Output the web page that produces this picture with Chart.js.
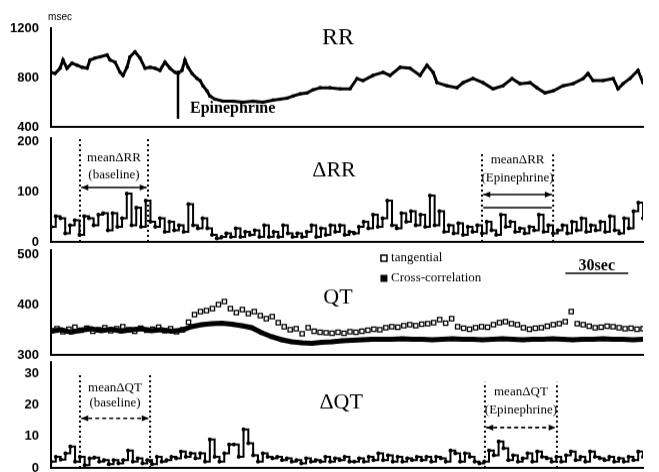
<!DOCTYPE html>
<html>
<head>
<meta charset="utf-8">
<script src="https://cdn.jsdelivr.net/npm/chart.js@4.4.1/dist/chart.umd.min.js"></script>
<style>
  html, body { margin: 0; padding: 0; background: #fff; }
  #wrap { position: relative; width: 659px; height: 472px; overflow: hidden; }
  #wrap canvas { position: absolute; left: 0; }
</style>
</head>
<body>
<div id="wrap">
  <canvas id="rr"></canvas>
  <canvas id="drr"></canvas>
  <canvas id="qt"></canvas>
  <canvas id="dqt"></canvas>
</div>
<script>
// length of the recording strip, seconds
const stripLength = 282;

// tick labels of the four panels
const rrTicks = [400, 800, 1200];
const deltaRRTicks = [0, 100, 200];
const qtTicks = [300, 400, 500];
const deltaQTTicks = [0, 10, 20, 30];

// RR interval (msec) against time (sec)
const rrTime = [0, 1.9, 4.3, 5.7, 7.6, 10, 12.4, 14.8, 17.2, 18.6,
  21, 23.3, 26.7, 28.1, 30.5, 32.9, 34.3, 36.2, 37.6, 40,
  42.4, 44.8, 47.2, 49.5, 51.9, 54.3, 56.7, 59.1, 60.5, 62.4,
  63.8, 65.3, 67.2, 69.6, 71, 72.4, 74.3, 75.7, 78.1, 81.9,
  86.7, 91.5, 96.2, 101, 105.8, 109.1, 112.4, 115.3, 118.6, 122,
  124.8, 128.2, 132.9, 137.7, 142.4, 145.8, 148.6, 153.4, 158.2, 161.5,
  166.3, 171, 175.8, 179.1, 182, 183.9, 188.7, 193.4, 196.3, 201,
  205.8, 210.6, 215.3, 219.6, 223.4, 228.2, 231.5, 235.3, 239.2, 243.9,
  248.7, 253.5, 255.8, 258.2, 263, 267.8, 270.1, 272.5, 275.8, 279.6, 282];
const rrValue = [842, 833, 875, 942, 875, 917, 900, 883, 875, 942,
  958, 967, 983, 942, 925, 842, 817, 883, 967, 1008,
  958, 875, 883, 875, 858, 925, 875, 842, 833, 858,
  942, 883, 833, 792, 775, 733, 692, 650, 625, 608,
  608, 600, 608, 600, 617, 625, 633, 650, 667, 675,
  700, 717, 717, 708, 708, 792, 775, 817, 842, 817,
  883, 875, 817, 900, 842, 758, 733, 717, 758, 792,
  758, 708, 733, 792, 750, 758, 717, 675, 692, 733,
  750, 792, 833, 775, 775, 792, 708, 750, 792, 858, 758];

// beat to beat change of RR (msec), evenly spaced over the strip
const deltaRR = [30, 51, 47, 17, 33, 43, 14, 51, 47, 33,
  54, 57, 23, 57, 30, 47, 96, 33, 68, 30,
  82, 40, 30, 47, 20, 40, 23, 33, 20, 75,
  33, 27, 47, 27, 14, 7, 10, 17, 10, 27,
  10, 20, 14, 23, 10, 33, 10, 20, 10, 33,
  17, 10, 17, 10, 20, 33, 10, 27, 14, 33,
  20, 33, 14, 20,
  17, 30, 40, 27, 54, 30, 47, 82, 33, 27,
  57, 40, 61, 33, 54, 30, 92, 33, 61, 20,
  33, 17, 37, 14, 30, 20, 33, 17, 40, 23,
  14, 54, 30, 40, 20, 27, 17, 30, 23, 54,
  20, 33, 17, 23, 33, 17, 40, 23, 47, 20,
  33, 23, 40, 20, 51, 23, 17, 47, 27, 61, 78, 47];

// QT interval (msec), evenly spaced
const qtTangential = [348, 352, 346, 351, 355, 349, 353, 347, 350, 354,
  348, 352, 356, 350, 347, 353, 349, 351, 355, 348,
  352, 346, 350, 365, 380, 386, 388, 392, 400, 406,
  392, 384, 390, 382, 386, 378, 372, 376, 364, 356,
  350, 352, 342, 354, 347, 345, 344, 343, 345, 343,
  346, 345, 347, 349, 351, 350, 354, 356, 355, 358,
  360, 358, 361, 362, 364, 370, 363, 372, 356, 353,
  351, 354, 356, 355, 360, 364, 366, 362, 360, 354,
  351, 353, 354, 357, 360, 362, 366, 386, 362, 360,
  357, 354, 355, 357, 356, 354, 352, 353, 351, 352];
const qtCrossCorr = [347, 350, 345, 349, 352, 348, 351, 347, 350, 352,
  348, 350, 347, 349, 356, 360, 362, 363, 361, 358,
  354, 344, 336, 330, 326, 324, 323, 325, 326, 328,
  329, 330, 331, 331, 331, 332, 331, 331, 330, 331,
  332, 331, 331, 330, 331, 332, 331, 330, 331, 331,
  332, 331, 330, 331, 331, 332, 331, 331, 330, 331];

// beat to beat change of QT (msec), evenly spaced
const deltaQT = [2, 3.5, 2.6, 4.6, 6.8, 2, 3.5, 0.9, 3, 3.3,
  2, 2.5, 1.2, 2.5, 1.4, 2.5, 5.5, 2, 3, 1.4,
  2.5, 1.2, 3.5, 2, 2.5, 3.5, 3, 5.2, 3.5, 4.6,
  3, 4.6, 2, 9, 3.5, 2, 4.6, 7.4, 7.4, 3.5,
  12.2, 7.8, 4, 2, 4.6, 3.5, 3, 3.5, 2.5, 3,
  2, 2.5, 1.4, 3, 2, 2.5, 2, 3.5, 2, 3, 2.5, 3.5, 2,
  2, 3, 2, 3.5, 2.5, 4.6, 2.5, 4, 2, 3.5,
  2, 3, 2.5, 3.5, 2.5, 3.5, 2, 3.5, 3, 2,
  5.5, 4.6, 2, 4.6, 3.5, 2, 1.4, 2, 5.5, 4,
  8.4, 6.2, 2.5, 4, 2, 3, 4.6, 2, 5.2, 3.5,
  3, 2, 3.5, 2, 4, 5.2, 2.5, 3.5, 2, 5.2,
  3.5, 3, 2.5, 3.5, 2, 3, 2, 3.5, 2.5, 5.2, 3.5];

// marked time windows (sec)
const epinephrineAt = 60.5;
const baselineRR = [13.8, 46.2];
const epiRR = [205.3, 239.2];
const baselineQT = [13.8, 47.2];
const epiQT = [206.7, 241];
const scaleBar = [245, 275];   // 30 sec

const tickFont = { family: '"Liberation Sans Narrow", "Liberation Sans", Arial', size: 13, weight: 'bold' };
const serif = '"Liberation Serif", "Times New Roman", serif';

function evenly(values) {
  const step = stripLength / (values.length - 1);
  return values.map((v, i) => ({ x: i * step, y: v }));
}

// --- drawing helpers for the notes on each panel ---
function at(chart, t, v) {
  return { x: chart.scales.x.getPixelForValue(t), y: chart.scales.y.getPixelForValue(v) };
}
function text(chart, str, t, v, font, align) {
  const ctx = chart.ctx, p = at(chart, t, v);
  ctx.font = font;
  ctx.fillStyle = '#000';
  ctx.textAlign = align || 'center';
  ctx.textBaseline = 'middle';
  ctx.fillText(str, p.x, p.y);
}
function line(chart, t0, v0, t1, v1, width, dash) {
  const ctx = chart.ctx, a = at(chart, t0, v0), b = at(chart, t1, v1);
  ctx.save();
  ctx.strokeStyle = '#000';
  ctx.lineWidth = width;
  ctx.setLineDash(dash || []);
  ctx.beginPath();
  ctx.moveTo(a.x, a.y);
  ctx.lineTo(b.x, b.y);
  ctx.stroke();
  ctx.restore();
}
function doubleArrow(chart, t0, t1, v, dash) {
  const ctx = chart.ctx, a = at(chart, t0, v), b = at(chart, t1, v);
  line(chart, t0, v, t1, v, 1.6, dash);
  ctx.fillStyle = '#000';
  ctx.beginPath();
  ctx.moveTo(a.x, a.y); ctx.lineTo(a.x + 7, a.y - 3); ctx.lineTo(a.x + 7, a.y + 3); ctx.closePath();
  ctx.moveTo(b.x, b.y); ctx.lineTo(b.x - 7, b.y - 3); ctx.lineTo(b.x - 7, b.y + 3); ctx.closePath();
  ctx.fill();
}
function windowMark(chart, win, top, title, sub, vTitle, vSub, vArrow, arrowDash) {
  line(chart, win[0], chart.scales.y.min, win[0], top, 2, [2, 3]);
  line(chart, win[1], chart.scales.y.min, win[1], top, 2, [2, 3]);
  const mid = (win[0] + win[1]) / 2;
  text(chart, title, mid, vTitle, '13px ' + serif);
  text(chart, sub, mid, vSub, '13px ' + serif);
  doubleArrow(chart, win[0] + 0.6, win[1] - 0.6, vArrow, arrowDash);
}
const notes = draw => ({
  id: 'notes',
  afterDraw(chart) { chart.ctx.save(); draw(chart); chart.ctx.restore(); }
});

function panelConfig(datasets, yMin, yMax, tickValues, draw) {
  return {
    type: 'line',
    data: { datasets },
    options: {
      responsive: false,
      maintainAspectRatio: false,
      animation: false,
      layout: { padding: { top: 20, right: 16, bottom: 4, left: 0 } },
      plugins: { legend: { display: false }, tooltip: { enabled: false } },
      scales: {
        x: {
          type: 'linear', min: 0, max: stripLength,
          ticks: { display: false },
          grid: { display: false, drawTicks: false },
          border: { color: '#000', width: 2 },
          afterFit: s => { s.height = 2; }
        },
        y: {
          min: yMin, max: yMax,
          afterBuildTicks: s => { s.ticks = tickValues.map(v => ({ value: v })); },
          ticks: { autoSkip: false, color: '#000', padding: 12, font: tickFont, callback: v => String(v) },
          grid: { display: false, drawTicks: false },
          border: { color: '#000', width: 2 },
          afterFit: s => { s.width = 51; }
        }
      }
    },
    plugins: [notes(draw)]
  };
}

// place a chart so that its plot area sits at the given page rows
function mountPanel(id, areaTop, areaBottom, config) {
  const canvas = document.getElementById(id);
  canvas.width = 659;
  canvas.height = areaBottom - areaTop + 40;
  const chart = new Chart(canvas, config);
  const above = chart.chartArea.top;
  const below = chart.height - chart.chartArea.bottom;
  chart.resize(659, areaBottom - areaTop + above + below);
  canvas.style.top = (areaTop - chart.chartArea.top) + 'px';
  return chart;
}

const stepLine = {
  borderColor: '#000', borderWidth: 2, stepped: true,
  pointRadius: 2, pointBackgroundColor: '#000', pointBorderWidth: 0
};

// RR
mountPanel('rr', 28, 126, panelConfig([{
  data: rrTime.map((t, i) => ({ x: t, y: rrValue[i] })),
  borderColor: '#000', borderWidth: 3, tension: 0,
  pointRadius: 1.8, pointBackgroundColor: '#000', pointBorderWidth: 0
}], 400, 1200, rrTicks, chart => {
  text(chart, 'msec', 4.3, 1290, '10px "Liberation Sans", Arial');
  text(chart, 'RR', 136.7, 1118, '24px ' + serif);
  line(chart, epinephrineAt, 857, epinephrineAt, 465, 2.5);
  text(chart, 'Epinephrine', 66.2, 547, 'bold 16px ' + serif, 'left');
}));

// delta RR
mountPanel('drr', 138, 241, panelConfig([
  Object.assign({ data: evenly(deltaRR) }, stepLine)
], 0, 206, deltaRRTicks, chart => {
  text(chart, '\u0394RR', 134.8, 142, '22px ' + serif);
  windowMark(chart, baselineRR, 206, 'mean\u0394RR', '(baseline)', 166, 132, 108);
  windowMark(chart, epiRR, 178, 'mean\u0394RR', '(Epinephrine)', 162, 126, 94);
  line(chart, epiRR[0] + 0.6, 68, epiRR[1] - 0.6, 68, 1.5);
}));

// QT
mountPanel('qt', 250, 354, panelConfig([
  {
    data: evenly(qtCrossCorr),
    borderColor: '#000', borderWidth: 5, tension: 0,
    pointStyle: 'rect', pointRadius: 3, pointBackgroundColor: '#000', pointBorderWidth: 0
  },
  {
    data: evenly(qtTangential),
    showLine: false,
    pointStyle: 'rect', pointRadius: 3,
    pointBackgroundColor: '#fff', pointBorderColor: '#000', pointBorderWidth: 1.3
  }
], 300, 508, qtTicks, chart => {
  const ctx = chart.ctx;
  const a = at(chart, 158.6, 492), b = at(chart, 158.6, 452);
  ctx.strokeStyle = '#000'; ctx.lineWidth = 1.5; ctx.fillStyle = '#000';
  ctx.strokeRect(a.x - 3, a.y - 3, 6, 6);
  ctx.fillRect(b.x - 3.5, b.y - 3.5, 7, 7);
  text(chart, 'tangential', 162, 492, '13px ' + serif, 'left');
  text(chart, 'Cross-correlation', 162, 452, '13px ' + serif, 'left');
  text(chart, '30sec', (scaleBar[0] + scaleBar[1]) / 2, 477, 'bold 16px ' + serif);
  line(chart, scaleBar[0], 462, scaleBar[1], 462, 1.5);
  text(chart, 'QT', 136.7, 414, '22px ' + serif);
}));

// delta QT
mountPanel('dqt', 362, 467, panelConfig([
  Object.assign({ data: evenly(deltaQT) }, stepLine)
], 0, 33.5, deltaQTTicks, chart => {
  text(chart, '\u0394QT', 138.2, 20.8, '22px ' + serif);
  windowMark(chart, baselineQT, 30, 'mean\u0394QT', '(baseline)', 25.2, 20.4, 15.7, [4, 3]);
  windowMark(chart, epiQT, 27.2, 'mean\u0394QT', '(Epinephrine)', 24, 18.2, 12.8, [4, 3]);
}));
</script>
</body>
</html>
